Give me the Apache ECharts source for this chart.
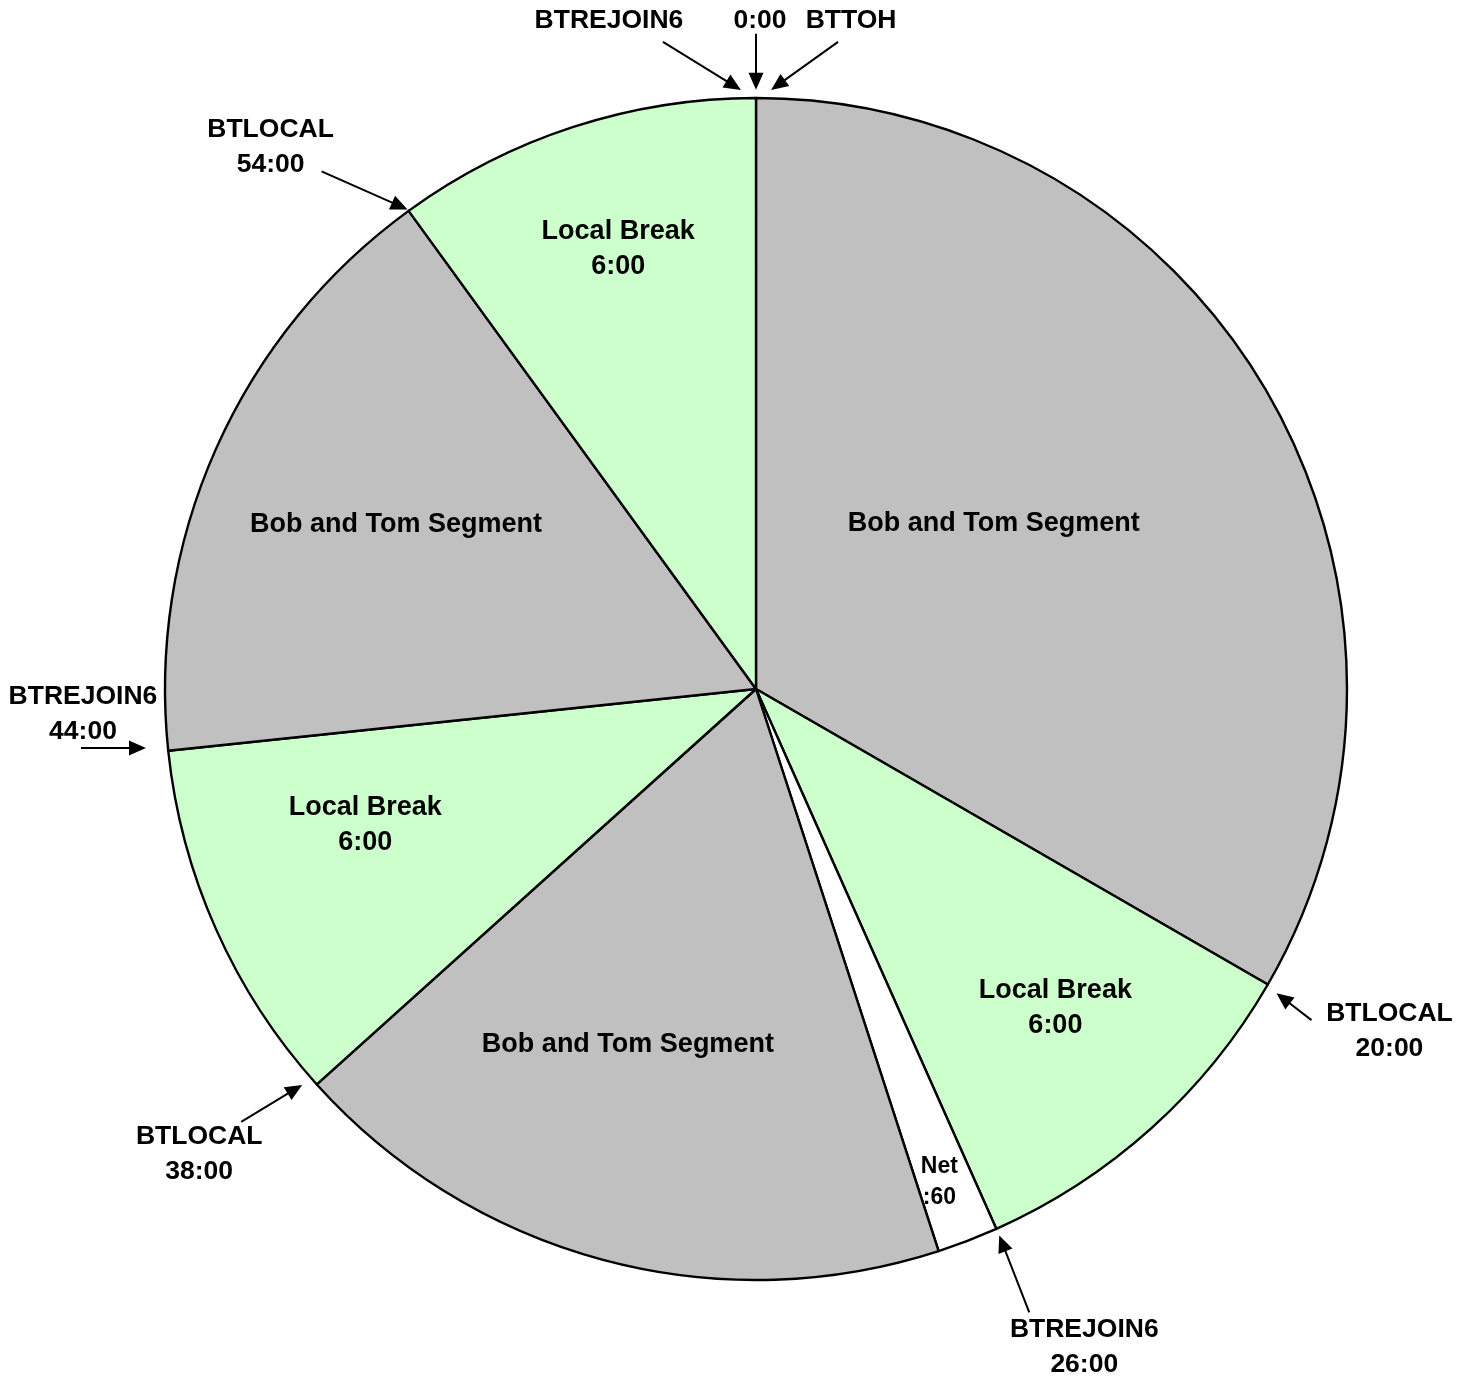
<!DOCTYPE html>
<html>
<head>
<meta charset="utf-8">
<script src="https://cdn.jsdelivr.net/npm/echarts@6/dist/echarts.min.js"></script>
<style>
  html, body { margin: 0; padding: 0; background: #ffffff; }
  #chart { width: 1471px; height: 1376px; }
</style>
</head>
<body>
<div id="chart"></div>
<script>
// ---- data ----
const segmentNames = ['Bob and Tom Segment', 'Local Break', 'Net', 'Bob and Tom Segment', 'Local Break', 'Bob and Tom Segment', 'Local Break'];
const segmentMinutes = [20, 6, 1, 11, 6, 10, 6];
const segmentLabels = ['Bob and Tom Segment', 'Local Break\n6:00', 'Net\n:60', 'Bob and Tom Segment', 'Local Break\n6:00', 'Bob and Tom Segment', 'Local Break\n6:00'];
const markerLabels = ['BTLOCAL\n20:00', 'BTREJOIN6\n26:00', 'BTLOCAL\n38:00', 'BTREJOIN6\n44:00', 'BTLOCAL\n54:00', 'BTREJOIN6', '0:00', 'BTTOH'];
const markerMinutes = [20, 26, 38, 44, 54, 60, 0, 0];

// ---- styles / layout ----
const kindColors = { 'Bob and Tom Segment': '#C0C0C0', 'Local Break': '#CCFFCC', 'Net': '#FFFFFF' };
const FONT = '"Liberation Sans", Arial, sans-serif';
const CENTER = [756, 689];
const R = 591;
const RMAX = 1.1;
// label placement: radius fraction and angular shift (minutes) from slice middle
const labelPlace = [
  { r: 0.49, s: -0.8 }, { r: 0.74, s: -0.2 }, { r: 0.89, s: 0.1 }, { r: 0.64, s: 0.8 },
  { r: 0.70, s: 0.8 }, { r: 0.67, s: 0.1 }, { r: 0.78, s: 0.1 }
];
// marker arrows: tip radius fraction, angular nudge, tail offset (px from tip), text offset (px from tip)
const markerPlace = [
  { r: 1.02,  n: 0.05,  tail: [35, 27],   text: [113, 38] },
  { r: 1.012, n: 0,     tail: [30, 77],   text: [85, 112] },
  { r: 1.019, n: 0.15,  tail: [-61, 37],  text: [-103, 69] },
  { r: 1.037, n: 0.08,  tail: [-65, 0],   text: [-63, -34] },
  { r: 1.003, n: 0,     tail: [-86, -38], text: [-137, -62] },
  { r: 1.014, n: -0.24, tail: [-78, -48], text: [-132, -69] },
  { r: 1.014, n: 0,     tail: [0, -56],   text: [4, -69] },
  { r: 1.014, n: 0.24,  tail: [67, -48],  text: [80, -69] }
];

// mid-minute of each slice
const mids = [];
let acc = 0;
segmentMinutes.forEach(m => { mids.push(acc + m / 2); acc += m; });

const pieData = segmentMinutes.map((m, i) => ({
  name: segmentNames[i], value: m,
  itemStyle: { color: kindColors[segmentNames[i]] }
}));

const labelData = segmentMinutes.map((m, i) => [labelPlace[i].r, mids[i] + labelPlace[i].s]);
const markerData = markerMinutes.map((m, i) => [markerPlace[i].r, m + markerPlace[i].n]);

const chart = echarts.init(document.getElementById('chart'), null, { renderer: 'canvas' });

chart.setOption({
  animation: false,
  backgroundColor: '#ffffff',
  polar: { center: CENTER, radius: R * RMAX },
  angleAxis: { type: 'value', min: 0, max: 60, startAngle: 90, clockwise: true, show: false },
  radiusAxis: { type: 'value', min: 0, max: RMAX, show: false },
  series: [
    {
      type: 'pie',
      center: CENTER,
      radius: R,
      startAngle: 90,
      clockwise: true,
      silent: true,
      z: 1,
      label: { show: false },
      labelLine: { show: false },
      itemStyle: { borderColor: '#000000', borderWidth: 2.4 },
      emphasis: { disabled: true },
      data: pieData
    },
    {
      type: 'custom',
      coordinateSystem: 'polar',
      silent: true,
      z: 10,
      data: labelData,
      renderItem: function (params, api) {
        const p = api.coord([api.value(0), api.value(1)]);
        const i = params.dataIndex;
        const small = segmentNames[i] === 'Net';
        return {
          type: 'group',
          children: [{
            type: 'text',
            z2: 100,
            style: {
              text: segmentLabels[i],
              x: p[0], y: p[1],
              align: 'center', verticalAlign: 'middle',
              font: 'bold ' + (small ? 23 : 27) + 'px ' + FONT,
              lineHeight: small ? 31 : 35,
              fill: '#000000'
            }
          }]
        };
      }
    },
    {
      type: 'custom',
      coordinateSystem: 'polar',
      silent: true,
      z: 10,
      data: markerData,
      renderItem: function (params, api) {
        const i = params.dataIndex;
        const L = markerPlace[i];
        const tip = api.coord([api.value(0), api.value(1)]);
        const tail = [tip[0] + L.tail[0], tip[1] + L.tail[1]];
        const dx = tip[0] - tail[0], dy = tip[1] - tail[1];
        const len = Math.sqrt(dx * dx + dy * dy);
        const ux = dx / len, uy = dy / len;
        const hl = 17, hw = 7.5;
        const base = [tip[0] - ux * hl, tip[1] - uy * hl];
        const px = -uy, py = ux;
        return {
          type: 'group',
          children: [
            {
              type: 'line',
              shape: { x1: tail[0], y1: tail[1], x2: base[0] + ux * 2, y2: base[1] + uy * 2 },
              style: { stroke: '#000000', lineWidth: 2 }
            },
            {
              type: 'polygon',
              shape: { points: [tip, [base[0] + px * hw, base[1] + py * hw], [base[0] - px * hw, base[1] - py * hw]] },
              style: { fill: '#000000' }
            },
            {
              type: 'text',
              style: {
                text: markerLabels[i],
                x: tip[0] + L.text[0], y: tip[1] + L.text[1],
                align: 'center', verticalAlign: 'middle',
                font: 'bold 26.5px ' + FONT,
                lineHeight: 35,
                fill: '#000000'
              }
            }
          ]
        };
      }
    }
  ]
});
</script>
</body>
</html>
